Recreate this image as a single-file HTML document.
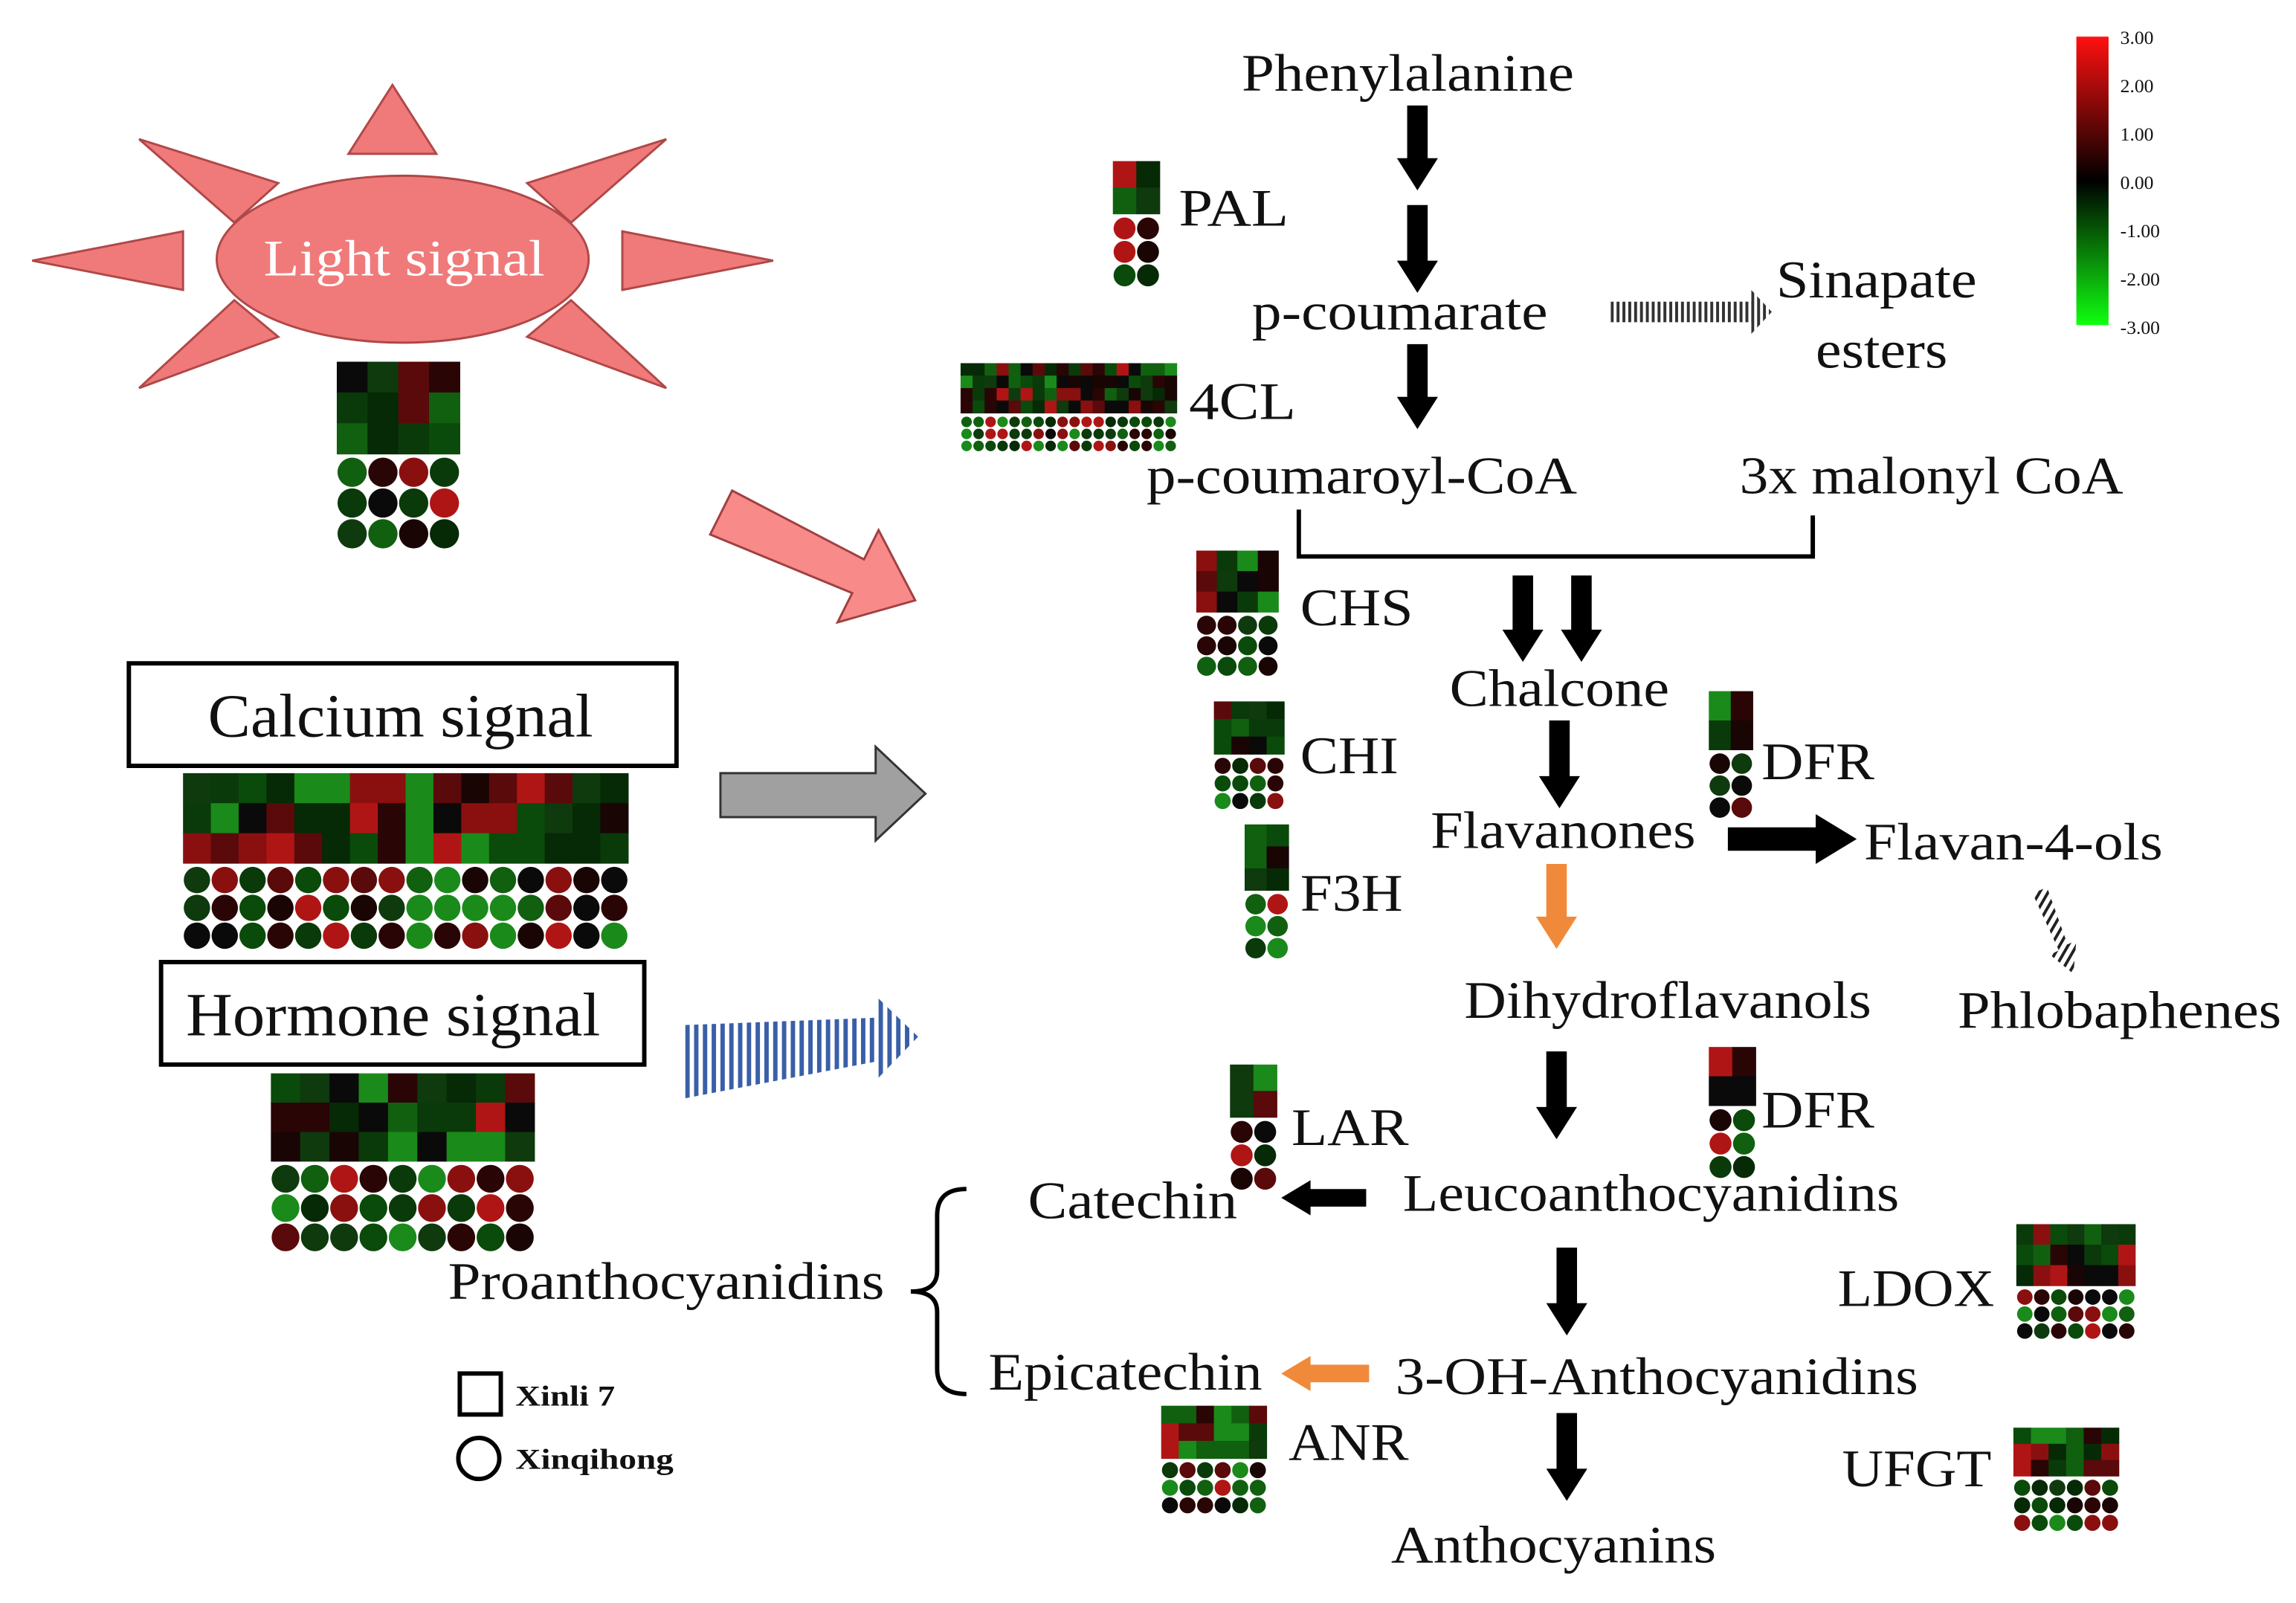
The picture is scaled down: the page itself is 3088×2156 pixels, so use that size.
<!DOCTYPE html>
<html><head><meta charset="utf-8"><style>
html,body{margin:0;padding:0;background:#fff;}
svg{display:block;}
text{font-family:"Liberation Serif",serif;fill:#111;}
</style></head><body>
<svg id="s" width="3088" height="2156" viewBox="0 0 1568 1094.7" xmlns="http://www.w3.org/2000/svg">
<defs>
<linearGradient id="cs" x1="0" y1="0" x2="0" y2="1">
<stop offset="0" stop-color="#ff1010"/><stop offset="0.5" stop-color="#000"/><stop offset="1" stop-color="#10ff10"/>
</linearGradient>
<pattern id="vh" width="4" height="4" patternUnits="userSpaceOnUse"><rect width="2" height="4" fill="#333"/></pattern>
<pattern id="bh" width="6" height="6" patternUnits="userSpaceOnUse"><rect width="3" height="6" fill="#3a5fa8"/></pattern>
<pattern id="dh" width="5" height="5" patternUnits="userSpaceOnUse" patternTransform="rotate(30)"><rect width="2" height="5" fill="#222"/></pattern>
</defs>
<g fill="#f07a7a" stroke="#b04848" stroke-width="1.5">
<polygon points="268,58 238,105 298,105"/>
<polygon points="22,178 125,158 125,198"/>
<polygon points="528,178 425,158 425,198"/>
<polygon points="95,95 190,125 160,152"/>
<polygon points="455,95 360,125 390,152"/>
<polygon points="95,265 190,230 160,205"/>
<polygon points="455,265 360,230 390,205"/>
<ellipse cx="275" cy="177" rx="127" ry="57"/>
</g>
<text x="180" y="188" font-size="35" textLength="192" lengthAdjust="spacingAndGlyphs" style="fill:#fff">Light signal</text>
<polygon points="485,365 500,335 590,382 600,362 625,410 572,425 582,405" fill="#f88a8a" stroke="#a04040" stroke-width="1.5"/>
<polygon points="492,528 598,528 598,510 632,542 598,574 598,558 492,558" fill="#a0a0a0" stroke="#333" stroke-width="1.5"/>
<polygon points="468,700 598,695 598,680 627,708 598,738 598,725 468,750" fill="url(#bh)"/>
<rect x="88" y="453" width="374" height="70" fill="#fff" stroke="#000" stroke-width="3"/>
<text x="142" y="503" font-size="42" textLength="263" lengthAdjust="spacingAndGlyphs">Calcium signal</text>
<rect x="110" y="657" width="330" height="70" fill="#fff" stroke="#000" stroke-width="3"/>
<text x="127" y="707" font-size="42" textLength="283" lengthAdjust="spacingAndGlyphs">Hormone signal</text>
<rect x="314" y="938" width="28" height="28" fill="none" stroke="#000" stroke-width="3"/>
<text x="352" y="960" font-size="20" font-weight="bold" textLength="68" lengthAdjust="spacingAndGlyphs">Xinli 7</text>
<circle cx="327" cy="996" r="14" fill="none" stroke="#000" stroke-width="3"/>
<text x="352" y="1003" font-size="20" font-weight="bold" textLength="108" lengthAdjust="spacingAndGlyphs">Xinqihong</text>
<rect x="1418" y="25" width="22" height="197" fill="url(#cs)"/>
<g font-size="13" style="font-family:'Liberation Sans',sans-serif">
<text x="1448" y="30">3.00</text><text x="1448" y="63">2.00</text><text x="1448" y="96">1.00</text><text x="1448" y="129">0.00</text><text x="1448" y="162">-1.00</text><text x="1448" y="195">-2.00</text><text x="1448" y="228">-3.00</text>
</g>
<g font-size="36" lengthAdjust="spacingAndGlyphs">
<text x="848" y="62" textLength="227" lengthAdjust="spacingAndGlyphs">Phenylalanine</text>
<text x="855" y="225" textLength="202" lengthAdjust="spacingAndGlyphs">p-coumarate</text>
<text x="1213" y="203" textLength="137" lengthAdjust="spacingAndGlyphs">Sinapate</text>
<text x="1240" y="251" textLength="90" lengthAdjust="spacingAndGlyphs">esters</text>
<text x="783" y="337" textLength="294" lengthAdjust="spacingAndGlyphs">p-coumaroyl-CoA</text>
<text x="1188" y="337" textLength="262" lengthAdjust="spacingAndGlyphs">3x malonyl CoA</text>
<text x="990" y="482" textLength="150" lengthAdjust="spacingAndGlyphs">Chalcone</text>
<text x="977" y="579" textLength="181" lengthAdjust="spacingAndGlyphs">Flavanones</text>
<text x="1273" y="587" textLength="204" lengthAdjust="spacingAndGlyphs">Flavan-4-ols</text>
<text x="1000" y="695" textLength="278" lengthAdjust="spacingAndGlyphs">Dihydroflavanols</text>
<text x="1337" y="702" textLength="221" lengthAdjust="spacingAndGlyphs">Phlobaphenes</text>
<text x="958" y="827" textLength="339" lengthAdjust="spacingAndGlyphs">Leucoanthocyanidins</text>
<text x="702" y="832" textLength="143" lengthAdjust="spacingAndGlyphs">Catechin</text>
<text x="306" y="887" textLength="298" lengthAdjust="spacingAndGlyphs">Proanthocyanidins</text>
<text x="953" y="952" textLength="357" lengthAdjust="spacingAndGlyphs">3-OH-Anthocyanidins</text>
<text x="675" y="949" textLength="187" lengthAdjust="spacingAndGlyphs">Epicatechin</text>
<text x="950" y="1067" textLength="222" lengthAdjust="spacingAndGlyphs">Anthocyanins</text>
<text x="805" y="154" textLength="75" lengthAdjust="spacingAndGlyphs">PAL</text>
<text x="812" y="286" textLength="73" lengthAdjust="spacingAndGlyphs">4CL</text>
<text x="888" y="427" textLength="77" lengthAdjust="spacingAndGlyphs">CHS</text>
<text x="888" y="528" textLength="67" lengthAdjust="spacingAndGlyphs">CHI</text>
<text x="888" y="622" textLength="70" lengthAdjust="spacingAndGlyphs">F3H</text>
<text x="1203" y="532" textLength="77" lengthAdjust="spacingAndGlyphs">DFR</text>
<text x="882" y="782" textLength="80" lengthAdjust="spacingAndGlyphs">LAR</text>
<text x="1203" y="770" textLength="77" lengthAdjust="spacingAndGlyphs">DFR</text>
<text x="1255" y="892" textLength="107" lengthAdjust="spacingAndGlyphs">LDOX</text>
<text x="880" y="997" textLength="82" lengthAdjust="spacingAndGlyphs">ANR</text>
<text x="1258" y="1015" textLength="102" lengthAdjust="spacingAndGlyphs">UFGT</text>
</g>
<path d="M887,348 V380 H1238 V352" fill="none" stroke="#000" stroke-width="3"/>
<path d="M660,812 Q640,812 640,830 V868 Q640,882 622,882 Q640,882 640,896 V935 Q640,952 660,952" fill="none" stroke="#000" stroke-width="3"/>
<polygon points="1100,206 1196,206 1196,198 1210,213 1196,228 1196,220 1100,220" fill="url(#vh)"/>
<polygon points="1388,610 1398,606 1412,645 1418,642 1416,665 1400,652 1406,649" fill="url(#dh)"/>
<g id="arrows"></g>
<g id="heat"></g>
</svg>
<script>
var NS="http://www.w3.org/2000/svg";
function el(p,t,a){var e=document.createElementNS(NS,t);for(var k in a)e.setAttribute(k,a[k]);p.appendChild(e);return e;}
var A=document.getElementById("arrows");
function down(x,y1,y2,c){el(A,"polygon",{points:[x-7,y1,x+7,y1,x+7,y2-22,x+14,y2-22,x,y2,x-14,y2-22,x-7,y2-22].join(" "),fill:c||"#000"});}
function left(y,x1,x2,c){el(A,"polygon",{points:[x1,y-6,x2+20,y-6,x2+20,y-12,x2,y,x2+20,y+12,x2+20,y+6,x1,y+6].join(" "),fill:c||"#000"});}
function right(y,x1,x2){el(A,"polygon",{points:[x1,y-8,x2-28,y-8,x2-28,y-17,x2,y,x2-28,y+17,x2-28,y+8,x1,y+8].join(" "),fill:"#000"});}
down(968,72,130);down(968,140,200);down(968,235,293);
down(1040,393,452);down(1080,393,452);down(1065,492,552);
down(1063,590,648,"#f08a3a");down(1063,718,778);down(1070,852,912);down(1070,965,1025);
left(818,933,875);left(938,935,875,"#f08a3a");right(573,1180,1268);
var H=document.getElementById("heat");var seed=7;
function rnd(){seed=(seed*16807)%2147483647;return seed/2147483647;}
var pal=["#0a0a0a","#1a0505","#2a0505","#5a0a0a","#8a1010","#b01515","#052a05","#0a4a0a","#0a3a0a","#106010","#1a8a1a","#0e3a0e"];
function col(){return pal[Math.floor(rnd()*pal.length)];}
function heat(x,y,cols,sq,cr,w,h){h=h||w;
 for(var r=0;r<sq;r++)for(var c=0;c<cols;c++)el(H,"rect",{x:x+c*w,y:y+r*h,width:w+0.3,height:h+0.3,fill:col()});
 var y2=y+sq*h+2;
 for(var r=0;r<cr;r++)for(var c=0;c<cols;c++)el(H,"circle",{cx:x+c*w+w/2,cy:y2+r*w+w/2,r:w/2-0.5,fill:col()});}
heat(230,247,4,3,3,21);
heat(125,528,16,3,3,19,20.5);
heat(185,733,9,3,3,20);
heat(760,110,2,2,3,16,18);
heat(656,248,18,4,3,8.2,8.5);
heat(817,376,4,3,3,14);
heat(829,479,4,3,3,12);
heat(850,563,2,3,3,15);
heat(1167,472,2,2,3,15,20);
heat(840,727,2,2,3,16,18);
heat(1167,715,2,2,3,16,20);
heat(1377,836,7,3,3,11.6,14);
heat(793,960,6,3,3,12);
heat(1375,975,6,3,3,12,11);
</script>
</body></html>
